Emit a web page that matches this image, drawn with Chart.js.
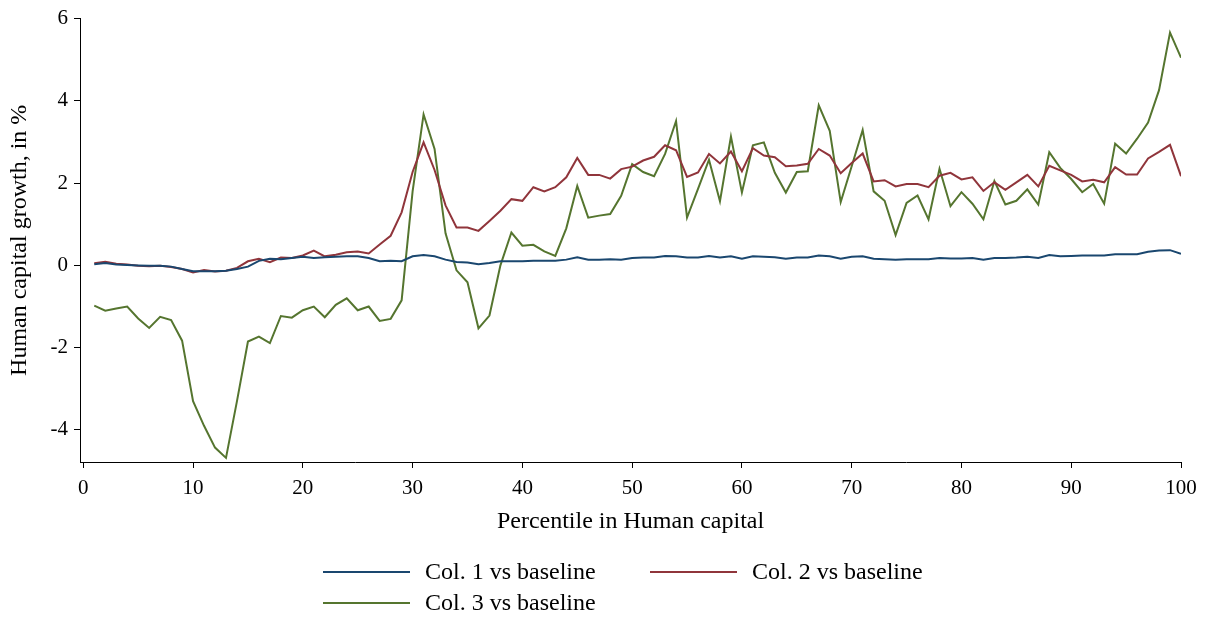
<!DOCTYPE html>
<html>
<head>
<meta charset="utf-8">
<title>Human capital growth by percentile</title>
<script src="https://cdn.jsdelivr.net/npm/chart.js@4.4.1/dist/chart.umd.min.js"></script>
<style>
  html, body { margin: 0; padding: 0; background: #fff; }
  #wrap { width: 1210px; height: 618px; position: relative; }
</style>
</head>
<body>
<div id="wrap"><canvas id="hcChart" width="1210" height="618"></canvas></div>
<script>
// Percentiles 1..100 on the x axis
const percentiles = Array.from({ length: 100 }, (_, i) => i + 1);

// Values (growth in %), one per percentile
const col1 = [
  0.03, 0.06, 0.02, 0.01, 0.00, -0.01, -0.01, -0.03, -0.09, -0.14,
  -0.14, -0.14, -0.13, -0.09, -0.03, 0.11, 0.16, 0.15, 0.18, 0.21,
  0.18, 0.20, 0.21, 0.22, 0.22, 0.18, 0.10, 0.11, 0.10, 0.22,
  0.25, 0.22, 0.14, 0.08, 0.07, 0.03, 0.06, 0.10, 0.10, 0.10,
  0.11, 0.11, 0.11, 0.14, 0.20, 0.14, 0.14, 0.15, 0.14, 0.18,
  0.19, 0.19, 0.23, 0.22, 0.19, 0.19, 0.23, 0.19, 0.22, 0.16,
  0.22, 0.21, 0.20, 0.16, 0.19, 0.19, 0.24, 0.22, 0.16, 0.21,
  0.22, 0.16, 0.15, 0.14, 0.15, 0.15, 0.15, 0.18, 0.17, 0.17,
  0.18, 0.14, 0.18, 0.18, 0.19, 0.21, 0.18, 0.25, 0.22, 0.23,
  0.24, 0.24, 0.24, 0.27, 0.27, 0.27, 0.33, 0.36, 0.37, 0.28
];
const col2 = [
  0.05, 0.09, 0.04, 0.02, -0.01, -0.02, -0.01, -0.04, -0.09, -0.17,
  -0.11, -0.15, -0.13, -0.06, 0.10, 0.16, 0.08, 0.19, 0.18, 0.24,
  0.36, 0.22, 0.26, 0.32, 0.34, 0.29, 0.51, 0.72, 1.29, 2.27,
  2.99, 2.32, 1.46, 0.92, 0.92, 0.84, 1.08, 1.33, 1.61, 1.57,
  1.90, 1.80, 1.90, 2.14, 2.61, 2.20, 2.20, 2.11, 2.34, 2.40,
  2.55, 2.64, 2.92, 2.80, 2.15, 2.26, 2.71, 2.48, 2.77, 2.29,
  2.85, 2.67, 2.63, 2.41, 2.43, 2.47, 2.83, 2.67, 2.24, 2.49,
  2.72, 2.04, 2.07, 1.92, 1.98, 1.98, 1.90, 2.18, 2.25, 2.09,
  2.14, 1.81, 2.02, 1.84, 2.02, 2.20, 1.92, 2.42, 2.31, 2.20,
  2.04, 2.08, 2.02, 2.39, 2.21, 2.21, 2.60, 2.76, 2.93, 2.17
];
const col3 = [
  -0.98, -1.10, -1.05, -1.00, -1.29, -1.52, -1.25, -1.33, -1.83, -3.30,
  -3.90, -4.43, -4.68, -3.30, -1.85, -1.73, -1.89, -1.23, -1.27, -1.09,
  -1.00, -1.26, -0.96, -0.80, -1.09, -1.00, -1.35, -1.30, -0.85, 1.80,
  3.67, 2.83, 0.78, -0.12, -0.41, -1.53, -1.22, 0.00, 0.80, 0.48,
  0.50, 0.34, 0.23, 0.90, 1.93, 1.16, 1.21, 1.25, 1.69, 2.46,
  2.27, 2.17, 2.71, 3.51, 1.16, 1.86, 2.57, 1.56, 3.13, 1.77,
  2.92, 2.99, 2.25, 1.77, 2.27, 2.29, 3.89, 3.27, 1.54, 2.41,
  3.29, 1.80, 1.57, 0.74, 1.52, 1.70, 1.12, 2.35, 1.44, 1.78,
  1.50, 1.12, 2.05, 1.48, 1.57, 1.85, 1.48, 2.75, 2.37, 2.10,
  1.78, 1.98, 1.50, 2.96, 2.72, 3.08, 3.47, 4.26, 5.66, 5.05
];

const seriesLabels = ["Col. 1 vs baseline", "Col. 2 vs baseline", "Col. 3 vs baseline"];
const xTicks = [0, 10, 20, 30, 40, 50, 60, 70, 80, 90, 100];
const yTicks = [-4, -2, 0, 2, 4, 6];

const serif = "'Liberation Serif', 'DejaVu Serif', serif";
const colors = ["#1a476f", "#90353b", "#55752f"];

function toPoints(values) {
  return percentiles.map((p, i) => ({ x: p, y: values[i] }));
}

// Stata-like legend: two columns, filled row by row, below the x title
const bottomLegend = {
  id: "bottomLegend",
  afterDraw(chart) {
    const ctx = chart.ctx;
    const lineLen = 87, gap = 15, colPitch = 327;
    const rowY = [572, 603];
    const startX = 323;
    ctx.save();
    ctx.font = "24px " + serif;
    ctx.textBaseline = "middle";
    ctx.textAlign = "left";
    chart.data.datasets.forEach((ds, i) => {
      const x = startX + (i % 2) * colPitch;
      const y = rowY[Math.floor(i / 2)];
      ctx.strokeStyle = ds.borderColor;
      ctx.lineWidth = 2;
      ctx.beginPath();
      ctx.moveTo(x, y);
      ctx.lineTo(x + lineLen, y);
      ctx.stroke();
      ctx.fillStyle = "#000";
      ctx.fillText(ds.label, x + lineLen + gap, y + 1);
    });
    ctx.restore();
  }
};

const ctx = document.getElementById("hcChart");
new Chart(ctx, {
  type: "line",
  data: {
    datasets: [
      { label: seriesLabels[0], data: toPoints(col1), borderColor: colors[0] },
      { label: seriesLabels[1], data: toPoints(col2), borderColor: colors[1] },
      { label: seriesLabels[2], data: toPoints(col3), borderColor: colors[2] }
    ]
  },
  options: {
    responsive: false,
    animation: false,
    devicePixelRatio: 1,
    layout: { padding: { left: 0, right: 29, top: 16, bottom: 76 } },
    elements: {
      line: { borderWidth: 2, tension: 0 },
      point: { radius: 0 }
    },
    plugins: {
      legend: { display: false },
      tooltip: { enabled: false }
    },
    scales: {
      x: {
        type: "linear",
        min: -0.3,
        max: 100,
        afterBuildTicks: s => { s.ticks = xTicks.map(v => ({ value: v })); },
        afterFit: s => { s.height = 80; },
        grid: { display: true, drawOnChartArea: false, drawTicks: true, tickLength: 6, color: "#000", lineWidth: 1 },
        border: { display: true, color: "#000", width: 1 },
        ticks: { color: "#000", font: { family: serif, size: 21 }, padding: 8, maxRotation: 0, autoSkip: false },
        title: {
          display: true, text: "Percentile in Human capital", color: "#000",
          font: { family: serif, size: 24 }, padding: { top: 0, bottom: 6 }
        }
      },
      y: {
        type: "linear",
        min: -4.78,
        max: 6,
        afterBuildTicks: s => { s.ticks = yTicks.map(v => ({ value: v })); },
        afterFit: s => { s.width = 80; },
        grid: { display: true, drawOnChartArea: false, drawTicks: true, tickLength: 6, color: "#000", lineWidth: 1 },
        border: { display: true, color: "#000", width: 1 },
        ticks: { color: "#000", font: { family: serif, size: 21 }, padding: 6, autoSkip: false },
        title: {
          display: true, text: "Human capital growth, in %", color: "#000",
          font: { family: serif, size: 24 }, padding: { top: 5, bottom: 0 }
        }
      }
    }
  },
  plugins: [bottomLegend]
});
</script>
</body>
</html>
